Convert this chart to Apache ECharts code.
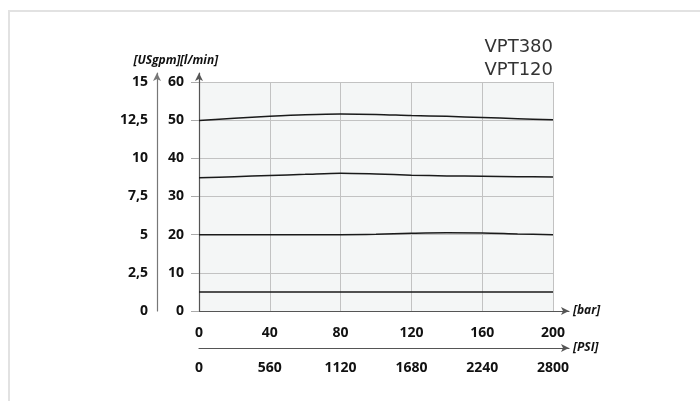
<!DOCTYPE html>
<html>
<head>
<meta charset="utf-8">
<script src="https://cdn.jsdelivr.net/npm/echarts@6/dist/echarts.min.js"></script>
<style>
  html, body { margin: 0; padding: 0; background: #fff; }
  #frame {
    position: absolute; left: 8px; top: 10px; width: 800px; height: 500px;
    border-top: 2px solid #e2e2e2; border-left: 2px solid #e2e2e2;
  }
  #main { position: absolute; left: 0; top: 0; width: 700px; height: 401px; }
</style>
</head>
<body>
<div id="frame"></div>
<div id="main"></div>
<script>
// pressure in bar, flow in l/min
var pressureBar = [0, 20, 40, 60, 80, 100, 120, 140, 160, 180, 200];
var flowA = [49.9, 50.5, 51.0, 51.4, 51.6, 51.5, 51.2, 51.0, 50.7, 50.4, 50.1];
var flowB = [34.9, 35.2, 35.5, 35.8, 36.1, 35.9, 35.6, 35.4, 35.3, 35.2, 35.1];
var flowC = [20.0, 20.0, 20.0, 20.0, 20.0, 20.1, 20.35, 20.5, 20.45, 20.2, 20.0];
var flowD = [5, 5, 5, 5, 5, 5, 5, 5, 5, 5, 5];
var titleLines = ['VPT380', 'VPT120'];

var chart = echarts.init(document.getElementById('main'), null, { renderer: 'canvas' });

var labelFont = { fontFamily: 'Open Sans', fontWeight: 'bold', fontSize: 14, color: '#111' };
var nameFont = { fontFamily: 'Open Sans', fontWeight: 'bold', fontStyle: 'italic', fontSize: 12, color: '#111' };
var axisColor = '#555';
var gridColor = '#c2c2c2';

function pairs(vals) {
  return pressureBar.map(function (p, i) { return [p, vals[i]]; });
}

function lineSeries(vals) {
  return {
    type: 'line',
    xAxisIndex: 0,
    yAxisIndex: 0,
    data: pairs(vals),
    smooth: 0.3,
    symbol: 'none',
    lineStyle: { color: '#1a1a1a', width: 1.5 }
  };
}

// helper axis that only draws an arrowed line
function arrowAxis(extra, color) {
  var a = {
    type: 'value',
    gridIndex: 1,
    min: 0,
    max: 1,
    axisLine: { show: true, onZero: false, symbol: ['none', 'arrow'], symbolSize: [6, 8],
      lineStyle: { color: color || axisColor, width: 1.2 } },
    axisTick: { show: false },
    axisLabel: { show: false },
    splitLine: { show: false },
    nameTextStyle: nameFont
  };
  return Object.assign(a, extra);
}

chart.setOption({
  animation: false,
  title: {
    text: titleLines.join('\n'),
    right: 147,
    top: 36,
    padding: 0,
    textStyle: { fontFamily: 'DejaVu Sans', fontWeight: 'normal', fontSize: 18, lineHeight: 23, color: '#333' }
  },
  grid: [
    { left: 199, right: 147, top: 82, bottom: 90, show: true, backgroundColor: '#f4f6f6', borderWidth: 0 },
    { left: 199, right: 131, top: 73, bottom: 90 }
  ],
  xAxis: [
    {
      type: 'value', gridIndex: 0, min: 0, max: 200, interval: 40,
      axisLine: { show: false }, axisTick: { show: false },
      axisLabel: Object.assign({ margin: 15 }, labelFont),
      splitLine: { show: true, lineStyle: { color: gridColor, width: 1 } }
    },
    {
      type: 'value', gridIndex: 0, position: 'bottom', offset: 37, min: 0, max: 2800, interval: 560,
      axisLine: { show: false }, axisTick: { show: false },
      axisLabel: Object.assign({ margin: 13, formatter: function (v) { return String(v); } }, labelFont),
      splitLine: { show: false }
    },
    arrowAxis({ position: 'bottom', name: '[bar]', nameLocation: 'end', nameGap: 4 }),
    arrowAxis({ position: 'bottom', offset: 37, name: '[PSI]', nameLocation: 'end', nameGap: 4 })
  ],
  yAxis: [
    {
      type: 'value', gridIndex: 0, min: 0, max: 60, interval: 10,
      axisLine: { show: false },
      axisTick: { show: true, length: 8, lineStyle: { color: '#aaa' } },
      axisLabel: Object.assign({ margin: 15 }, labelFont),
      splitLine: { show: true, lineStyle: { color: gridColor, width: 1 } }
    },
    {
      type: 'value', gridIndex: 0, position: 'left', offset: 42, min: 0, max: 15, interval: 2.5,
      axisLine: { show: false }, axisTick: { show: false },
      axisLabel: Object.assign({
        margin: 9,
        formatter: function (v) { return String(v).replace('.', ','); }
      }, labelFont),
      splitLine: { show: false }
    },
    arrowAxis({ position: 'left', name: '[l/min]', nameLocation: 'end', nameGap: 6 }),
    arrowAxis({ position: 'left', offset: 42, name: '[USgpm]', nameLocation: 'end', nameGap: 6 }, '#777')
  ],
  series: [lineSeries(flowA), lineSeries(flowB), lineSeries(flowC), lineSeries(flowD)]
});
</script>
</body>
</html>
